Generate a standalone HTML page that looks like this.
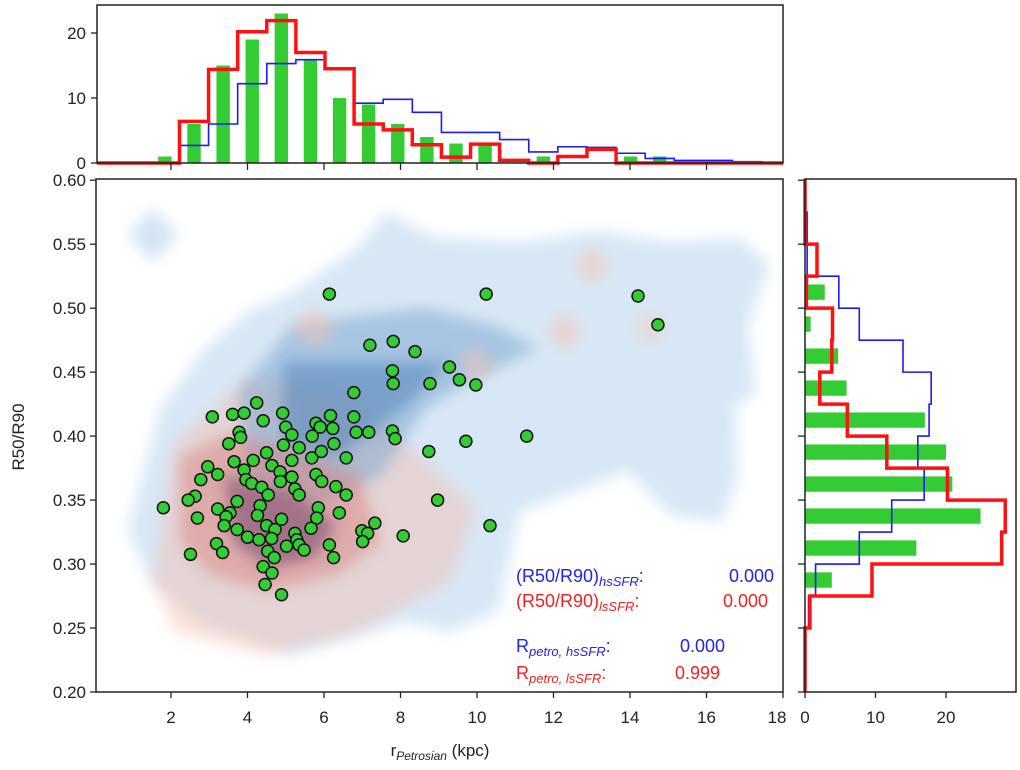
<!DOCTYPE html>
<html><head><meta charset="utf-8"><style>
html,body{margin:0;padding:0;background:#fff;}
svg{display:block;font-family:"Liberation Sans","DejaVu Sans",sans-serif;}
</style></head><body>
<svg id="chart" width="1020" height="770" viewBox="0 0 1020 770">
<defs>
<filter id="blur" x="-20%" y="-20%" width="140%" height="140%"><feGaussianBlur stdDeviation="7"/></filter>
<clipPath id="mainclip"><rect x="96" y="179" width="687" height="513"/></clipPath>
</defs>
<g id="contours" clip-path="url(#mainclip)"></g>
<g id="main"></g>
<g id="top"></g>
<g id="right"></g>
</svg>
<script>
// ---- scatter data ----
const ptX=[6.14,10.24,7.20,7.81,8.38,9.28,7.79,7.81,8.77,9.54,9.97,6.78,4.24,3.08,3.61,3.91,4.41,4.92,5.79,6.17,6.78,5.0,5.16,5.90,6.23,6.84,7.17,7.79,7.86,3.78,3.82,3.51,4.94,5.35,5.69,6.26,9.71,11.30,8.74,4.50,5.16,5.68,5.93,6.58,3.65,4.15,4.64,2.96,3.91,4.85,5.16,3.22,2.78,3.96,4.11,5.79,5.94,4.37,4.86,5.24,5.35,6.31,6.58,2.63,2.45,4.54,3.73,1.80,3.22,3.54,4.33,5.85,6.40,8.97,2.69,3.44,4.26,4.89,5.81,3.39,3.73,4.50,4.72,5.66,7.33,6.99,7.14,10.34,8.07,4.0,4.30,4.63,5.24,5.29,7.01,3.19,3.35,4.53,5.02,5.35,5.48,6.14,2.51,4.70,6.25,4.41,4.64,4.46,4.89,14.21,14.73];
const ptY=[0.511,0.511,0.471,0.474,0.466,0.454,0.451,0.441,0.441,0.444,0.440,0.434,0.426,0.415,0.417,0.418,0.412,0.418,0.410,0.416,0.415,0.407,0.401,0.407,0.406,0.403,0.403,0.404,0.398,0.403,0.399,0.394,0.393,0.391,0.400,0.394,0.396,0.400,0.388,0.387,0.381,0.383,0.388,0.383,0.380,0.381,0.377,0.376,0.3735,0.372,0.368,0.370,0.366,0.366,0.363,0.370,0.3645,0.360,0.3645,0.3587,0.354,0.3605,0.354,0.353,0.350,0.354,0.349,0.344,0.343,0.340,0.3456,0.344,0.340,0.350,0.336,0.337,0.338,0.335,0.336,0.330,0.327,0.330,0.327,0.328,0.332,0.326,0.324,0.330,0.322,0.321,0.319,0.320,0.324,0.319,0.3175,0.316,0.309,0.310,0.314,0.315,0.311,0.315,0.3076,0.305,0.305,0.298,0.293,0.284,0.276,0.5095,0.487];
// ---- top histogram (bins start at 0.699, width 0.761) ----
const topBinStart=0.699, topBinW=0.761;
const topRed  =[0,0,6.4,14.4,20.2,21.9,17,14.5,6,5.1,2.8,0.9,2.9,0.4,0,1,2.1,0,0,0,0,0,0];
const topBlue =[0,0,2.7,6,12.2,15.3,15.9,14.5,9.2,9.8,7.8,4.7,4.7,3.6,1.7,2.5,2.4,1.5,0.7,0.4,0.4,0.2,0];
const topGreen=[0,1,6,15,19,23,16,10,9,6,4,3,3,0,1,0,0,1,1,0,0,0,0];
const topTicks=[0,10,20];
// ---- right histogram (bins of 0.025 from 0.20) ----
const rBinStart=0.20, rBinW=0.025;
const rRed  =[0,0,0.7,9.5,27.9,28.4,20.2,11.6,6,2.1,3.8,3.9,0.2,1.7,0,0];
const rBlue =[0,0,0.5,1.5,7.7,12.3,16.9,16,17.6,17.9,13.9,7.7,4.8,0.3,0.3,0];
const rGreen=[0,0,0,3.8,15.8,24.9,20.9,20,17,5.9,4.7,0.8,2.8,0,0,0];
const rTicks=[0,10,20];
// ---- main axis ticks ----
const xTicks=[2,4,6,8,10,12,14,16,18];
const yTicks=[0.20,0.25,0.30,0.35,0.40,0.45,0.50,0.55,0.60];

const NS="http://www.w3.org/2000/svg";
function mk(tag,attrs,parent){const e=document.createElementNS(NS,tag);for(const k in attrs)e.setAttribute(k,attrs[k]);parent.appendChild(e);return e;}
const X=v=>171+(v-2)*38.25;
const Y=v=>692-(v-0.2)*1279.5;
const Yt=c=>163-c*6.5;
const Xr=c=>805+c*7.05;

// ---- contours (decorative density shapes) ----
const cg=document.getElementById('contours');
const shapes=[
 ["#a9c9e8",0.45,"128,530 160,408 202,352 247,312 292,292 359,246 386,212 431,236 516,242 597,231 673,242 740,238 770,265 748,325 756,392 735,408 738,475 722,522 673,516 628,472 606,480 520,512 498,612 449,632 404,622 292,655 202,625 150,580","light-blue-contour"],
 ["#a9c9e8",0.5,"153,208 178,235 153,262 128,235","blue-diamond-contour"],
 ["#f5b7a5",0.4,"152,580 175,442 247,378 337,388 404,442 476,508 452,580 359,632 269,655 175,632","light-red-contour"],
 ["#6a9bcc",0.45,"238,392 292,325 359,315 426,308 494,325 538,348 471,382 426,408 381,475 314,508 247,475","medium-blue-contour"],
 ["#3f77b0",0.45,"283,362 449,362 404,408 337,458 283,442","dark-blue-contour"],
 ["#d77a78",0.45,"180,458 224,435 292,448 359,475 381,542 337,575 269,592 211,575 180,542","mid-red-contour"],
 ["#5a2f5e",0.45,"224,475 292,492 337,525 314,558 269,568 233,542","dark-core-contour"],
 ["#f5c2b2",0.5,"314,308 339,328 314,348 289,328","red-diamond-1"],
 ["#f5c2b2",0.5,"476,345 496,365 476,385 456,365","red-diamond-2"],
 ["#f5c2b2",0.5,"565,312 585,332 565,352 545,332","red-diamond-3"],
 ["#f5c2b2",0.5,"592,245 612,265 592,285 572,265","red-diamond-4"],
 ["#f5c2b2",0.4,"650,310 668,328 650,346 632,328","red-diamond-5"]
];
shapes.forEach(s=>{const p=mk('polygon',{points:s[2],fill:s[0],'fill-opacity':s[1],filter:'url(#blur)'},cg);

});

// ---- main panel ----
const mg=document.getElementById('main');
const mf=mk('rect',{x:96,y:179,width:687,height:513,fill:'none',stroke:'#222','stroke-width':1.5},mg);


xTicks.forEach(t=>{const x=X(t);
 const l=mk('line',{x1:x,y1:692,x2:x,y2:698,stroke:'#222','stroke-width':1.3},mg);
 
 
 const tx=mk('text',{x:t===18?x-6:x,y:723,'text-anchor':'middle','font-size':17,fill:'#222'},mg);tx.textContent=t;
 
 });
yTicks.forEach(t=>{const y=Y(t);
 const l=mk('line',{x1:90,y1:y,x2:96,y2:y,stroke:'#222','stroke-width':1.3},mg);
 
 
 const tx=mk('text',{x:86,y:y+6,'text-anchor':'end','font-size':17,fill:'#222'},mg);tx.textContent=t.toFixed(2);
 
 });
const xl=mk('text',{x:440,y:756,'text-anchor':'middle','font-size':17,fill:'#222'},mg);
xl.innerHTML='r<tspan font-size="12" font-style="italic" dy="4">Petrosian</tspan><tspan dy="-4"> (kpc)</tspan>';


const yl=mk('text',{x:24,y:437,'text-anchor':'middle','font-size':17,fill:'#222',transform:'rotate(-90 24 437)'},mg);yl.textContent='R50/R90';


ptX.forEach((v,i)=>{const c=mk('circle',{cx:X(v),cy:Y(ptY[i]),r:6,fill:'#33cc33',stroke:'#111','stroke-width':1.5},mg);
 
 });
const notes=[[576,'#2222ee','(R50/R90)<tspan font-size="13" font-style="italic" dy="4">hsSFR</tspan><tspan dy="-4">:</tspan>','0.000',774,'stat-r50r90-hssfr'],
 [601,'#ee2222','(R50/R90)<tspan font-size="13" font-style="italic" dy="4">lsSFR</tspan><tspan dy="-4">:</tspan>','0.000',768,'stat-r50r90-lssfr'],
 [646,'#2222ee','R<tspan font-size="13" font-style="italic" dy="4">petro, hsSFR</tspan><tspan dy="-4">:</tspan>','0.000',725,'stat-rpetro-hssfr'],
 [673,'#ee2222','R<tspan font-size="13" font-style="italic" dy="4">petro, lsSFR</tspan><tspan dy="-4">:</tspan>','0.999',720,'stat-rpetro-lssfr']];
notes.forEach(n=>{const t=mk('text',{x:516,y:n[0]+6,'font-size':18,fill:n[1]},mg);t.innerHTML=n[2];
 
 
 const v=mk('text',{x:n[4],y:n[0]+6,'font-size':18,fill:n[1],'text-anchor':'end'},mg);v.textContent=n[3];
 
 });

// ---- top histogram ----
const tg=document.getElementById('top');
function stepTop(vals,color,w,name){let d='M97,163';vals.forEach((c,i)=>{const x0=Math.max(97,X(topBinStart+i*topBinW)),x1=Math.min(783,X(topBinStart+(i+1)*topBinW));d+=` L${x0},${Yt(c)} L${x1},${Yt(c)}`;});d+=' L783,163';
 const p=mk('path',{d:d,fill:'none',stroke:color,'stroke-width':w},tg);
 
 }
topGreen.forEach((c,i)=>{if(c<=0)return;const xc=X(topBinStart+(i+0.5)*topBinW);const w=topBinW*0.46*38.25;
 const r=mk('rect',{x:xc-w/2,y:Yt(c),width:w,height:163-Yt(c),fill:'#33cc33'},tg);
 
 });
stepTop(topBlue,'#1a1aff',1.6,'top-blue-step');
stepTop(topRed,'#ff1111',3.5,'top-red-step');
const tf=mk('rect',{x:97,y:5,width:686,height:158,fill:'none',stroke:'#222','stroke-width':1.5},tg);


topTicks.forEach(t=>{const y=Yt(t);
 const l=mk('line',{x1:91,y1:y,x2:97,y2:y,stroke:'#222','stroke-width':1.3},tg);
 
 
 const tx=mk('text',{x:86,y:y+6,'text-anchor':'end','font-size':17,fill:'#222'},tg);tx.textContent=t;
 
 });
xTicks.slice(0,8).forEach(t=>{const l=mk('line',{x1:X(t),y1:163,x2:X(t),y2:170,stroke:'#222','stroke-width':1.3},tg);
 
 });

// ---- right histogram ----
const rg=document.getElementById('right');
function stepRight(vals,color,w,name){let d='M805,692';vals.forEach((c,i)=>{const y0=Y(rBinStart+i*rBinW),y1=Y(rBinStart+(i+1)*rBinW);d+=` L${Xr(c)},${y0} L${Xr(c)},${y1}`;});d+=' L805,179';
 const p=mk('path',{d:d,fill:'none',stroke:color,'stroke-width':w},rg);
 
 }
rGreen.forEach((c,i)=>{if(c<=0)return;const yc=Y(rBinStart+(i+0.5)*rBinW);const h=rBinW*0.48*1279.5;
 const r=mk('rect',{x:805,y:yc-h/2,width:Xr(c)-805,height:h,fill:'#33cc33'},rg);
 
 });
stepRight(rBlue,'#1a1aff',1.6,'right-blue-step');
stepRight(rRed,'#ff1111',3.5,'right-red-step');
const rf=mk('rect',{x:805,y:179,width:211,height:513,fill:'none',stroke:'#222','stroke-width':1.5},rg);


rTicks.forEach(t=>{const x=Xr(t);
 const l=mk('line',{x1:x,y1:692,x2:x,y2:698,stroke:'#222','stroke-width':1.3},rg);
 
 
 const tx=mk('text',{x:x,y:723,'text-anchor':'middle','font-size':17,fill:'#222'},rg);tx.textContent=t;
 
 });
yTicks.forEach(t=>{const l=mk('line',{x1:798,y1:Y(t),x2:805,y2:Y(t),stroke:'#222','stroke-width':1.3},rg);
 
 });
</script>
</body></html>
